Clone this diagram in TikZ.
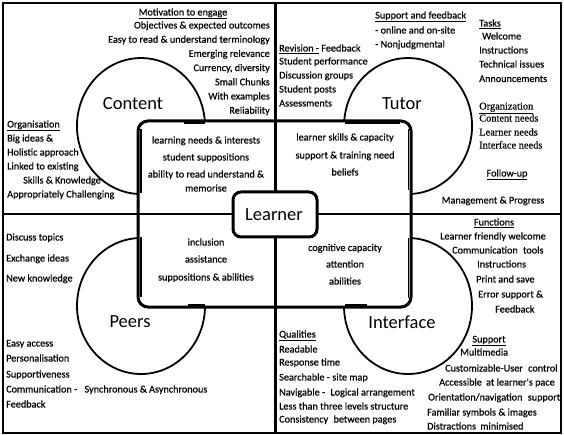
\documentclass[tikz,border=0pt]{standalone}
\usepackage{fontspec}
\setmainfont{Carlito}
\newfontfamily\heavyface[FakeBold=0.6]{Carlito}
\newfontfamily\serifface[FakeBold=0.4]{Liberation Serif}
\begin{document}
\begin{tikzpicture}[x=1pt,y=-1pt,
  txt/.style={inner sep=0pt, font=\fontsize{10.2}{12}\selectfont\heavyface},
  srftxt/.style={inner sep=0pt, font=\fontsize{10.4}{12}\selectfont\serifface},
  lbl/.style={inner sep=0pt, font=\fontsize{18.5}{20}\selectfont},
  frameline/.style={line width=2pt},
  divider/.style={line width=2.2pt},
  innerbox/.style={line width=3pt, rounded corners=10pt},
  arcline/.style={line width=1.8pt},
  bar/.style={line width=2pt},
  dbl/.style={line width=1.4pt},
  learnerbox/.style={draw, line width=3pt, rounded corners=8pt, fill=white, minimum width=84pt, minimum height=45pt, inner sep=0pt}
  ]
\useasboundingbox (0,0) rectangle (564,435);
\fill[white] (0,0) rectangle (564,435);
% frame and dividers
\draw[frameline] (3,3) rectangle (561,433);
\draw[divider] (275.5,3) -- (275.5,433);
\draw[divider] (3,214) -- (561,214);
% inner rounded rectangle
\draw[innerbox] (138,121) rectangle (411,307);
% three-quarter ellipses
\draw[arcline] (204.8,121.3) arc[start angle=4, end angle=267, x radius=64pt, y radius=68pt];
\draw[arcline] (344.2,121.3) arc[start angle=176, end angle=-87, x radius=64pt, y radius=68pt];
\draw[arcline] (137.65,238.1) arc[start angle=93, end angle=360, x radius=64pt, y radius=68pt];
\draw[arcline] (344,306) arc[start angle=180, end angle=447, x radius=64pt, y radius=68pt];
% junction marks
\draw[bar] (184,123) -- (205,123);
\draw[dbl] (141,129) -- (141,193);
\draw[bar] (345,123) -- (400,123);
\draw[dbl] (408.5,129) -- (408.5,190);
\draw[bar] (188,305) -- (205,305);
\draw[dbl] (141,237) -- (141,297);
\draw[bar] (345,305) -- (367,305);
\draw[dbl] (408.5,238) -- (408.5,298);
% learner
\node[learnerbox] (learner) at (275,214.5) {};
\node[lbl, anchor=base] (learnerlbl) at (274,220.5) {Learner};
% big labels
\node[lbl, anchor=base] (content) at (133,110) {Content};
\node[lbl, anchor=base] (tutor) at (402,109.5) {Tutor};
\node[lbl, anchor=base] (peers) at (130,327) {Peers};
\node[lbl, anchor=base] (interface) at (402,328) {Interface};
% ---- top left
\node[txt, anchor=base] (mot) at (183,15.5) {\underline{Motivation to engage}};
\node[txt, anchor=base east] (m1) at (270,28.5) {Objectives \& expected outcomes};
\node[txt, anchor=base east] (m2) at (270,42.7) {Easy to read \& understand terminology};
\node[txt, anchor=base east] (m3) at (270,56.9) {Emerging relevance};
\node[txt, anchor=base east] (m4) at (270,71.1) {Currency, diversity};
\node[txt, anchor=base east] (m5) at (270,85.3) {Small Chunks};
\node[txt, anchor=base east] (m6) at (270,99.5) {With examples};
\node[txt, anchor=base east] (m7) at (270,113.7) {Reliability};
\node[txt, anchor=base west] (org) at (7,127.5) {\underline{Organisation}};
\node[txt, anchor=base west] (o1) at (7,141.5) {Big ideas \&};
\node[txt, anchor=base west] (o2) at (7,155.5) {Holistic approach};
\node[txt, anchor=base west] (o3) at (7,169.5) {Linked to existing};
\node[txt, anchor=base west] (o4) at (23,183.5) {Skills \& Knowledge};
\node[txt, anchor=base west] (o5) at (7,197.5) {Appropriately Challenging};
\node[txt, anchor=base] (i1) at (206,143.5) {learning needs \& interests};
\node[txt, anchor=base] (i2) at (206,160.5) {student suppositions};
\node[txt, anchor=base] (i3) at (206,177.5) {ability to read understand \&};
\node[txt, anchor=base] (i4) at (206,191.5) {memorise};
% ---- top right
\node[txt, anchor=base west] (sf) at (375,18.5) {\underline{Support and feedback}};
\node[txt, anchor=base west] (sf1) at (375,33.5) {- online and on-site};
\node[txt, anchor=base west] (sf2) at (375,47.5) {- Nonjudgmental};
\node[txt, anchor=base west] (rev) at (279,51.5) {\underline{Revision -} Feedback};
\node[txt, anchor=base west] (r1) at (279,64.5) {Student performance};
\node[txt, anchor=base west] (r2) at (279,78.5) {Discussion groups};
\node[txt, anchor=base west] (r3) at (279,92.5) {Student posts};
\node[txt, anchor=base west] (r4) at (279,106.5) {Assessments};
\node[txt, anchor=base west] (tasks) at (479,26.5) {\underline{Tasks}};
\node[txt, anchor=base west] (t1) at (482,39.5) {Welcome};
\node[txt, anchor=base west] (t2) at (479,53.5) {Instructions};
\node[txt, anchor=base west] (t3) at (479,67.5) {Technical issues};
\node[txt, anchor=base west] (t4) at (479,82) {Announcements};
\node[srftxt, anchor=base west] (orgz) at (479,109.5) {\underline{Organization}};
\node[srftxt, anchor=base west] (z1) at (479,121.5) {Content needs};
\node[srftxt, anchor=base west] (z2) at (479,135.5) {Learner needs};
\node[srftxt, anchor=base west] (z3) at (479,148.5) {Interface needs};
\node[txt, anchor=base] (fu) at (507,176.5) {\underline{Follow-up}};
\node[txt, anchor=base] (fu1) at (493,203.5) {Management \& Progress};
\node[txt, anchor=base] (j1) at (345,140.5) {learner skills \& capacity};
\node[txt, anchor=base] (j2) at (345,158.5) {support \& training need};
\node[txt, anchor=base] (j3) at (345,175.5) {beliefs};
% ---- bottom left
\node[txt, anchor=base west] (p1) at (6,240.5) {Discuss topics};
\node[txt, anchor=base west] (p2) at (6,261.5) {Exchange ideas};
\node[txt, anchor=base west] (p3) at (6,281.5) {New knowledge};
\node[txt, anchor=base west] (p4) at (6,346.5) {Easy access};
\node[txt, anchor=base west] (p5) at (6,361.5) {Personalisation};
\node[txt, anchor=base west] (p6) at (6,377.5) {Supportiveness};
\node[txt, anchor=base west] (p7) at (6,392.5) {Communication -\hspace{5pt} Synchronous \& Asynchronous};
\node[txt, anchor=base west] (p8) at (6,407.5) {Feedback};
\node[txt, anchor=base] (k1) at (206,245.5) {inclusion};
\node[txt, anchor=base] (k2) at (206,262.5) {assistance};
\node[txt, anchor=base] (k3) at (206,280.5) {suppositions \& abilities};
% ---- bottom right
\node[txt, anchor=base] (fn) at (494,225.5) {\underline{Functions}};
\node[txt, anchor=base west] (f1) at (440,239.5) {Learner friendly welcome};
\node[txt, anchor=base west] (f2) at (452,253.5) {Communication\hspace{3pt} tools};
\node[txt, anchor=base west] (f3) at (477,267.5) {Instructions};
\node[txt, anchor=base west] (f4) at (476,282.5) {Print and save};
\node[txt, anchor=base west] (f5) at (478,297.5) {Error support \&};
\node[txt, anchor=base west] (f6) at (495,312.5) {Feedback};
\node[txt, anchor=base west] (ql) at (279,337.5) {\underline{Qualities}};
\node[txt, anchor=base west] (q1) at (279,352.5) {Readable};
\node[txt, anchor=base west] (q2) at (279,365.5) {Response time};
\node[txt, anchor=base west] (q3) at (279,380.5) {Searchable - site map};
\node[txt, anchor=base west] (q4) at (279,395.5) {Navigable -\hspace{3pt} Logical arrangement};
\node[txt, anchor=base west] (q5) at (279,409.5) {Less than three levels structure};
\node[txt, anchor=base west] (q6) at (279,422.5) {Consistency\hspace{3pt} between pages};
\node[txt, anchor=base] (sp) at (489,342.5) {\underline{Support}};
\node[txt, anchor=base west] (s1) at (460,355.5) {Multimedia};
\node[txt, anchor=base west] (s2) at (445,371.5) {Customizable-User\hspace{3pt} control};
\node[txt, anchor=base west] (s3) at (439,385.5) {Accessible\hspace{2pt} at learner's pace};
\node[txt, anchor=base west] (s4) at (428,400.5) {Orientation/navigation\hspace{3pt} support};
\node[txt, anchor=base west] (s5) at (427,415.5) {Familiar symbols \& images};
\node[txt, anchor=base west] (s6) at (427,429.5) {Distractions\hspace{2pt} minimised};
\node[txt, anchor=base] (c1) at (345,251) {cognitive capacity};
\node[txt, anchor=base] (c2) at (345,267.5) {attention};
\node[txt, anchor=base] (c3) at (345,284.5) {abilities};
\end{tikzpicture}
\end{document}
